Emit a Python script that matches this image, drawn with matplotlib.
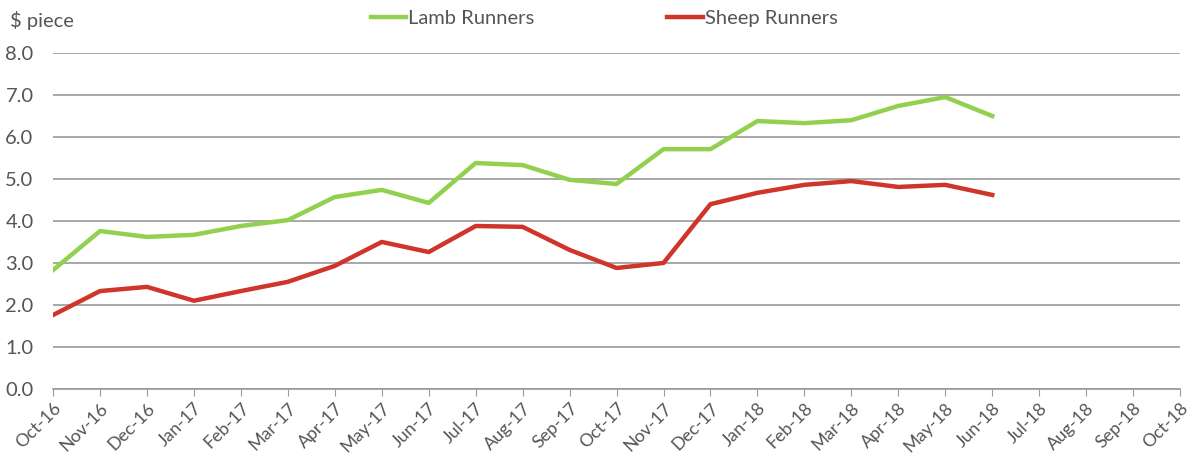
import matplotlib
matplotlib.use("Agg")
import matplotlib.pyplot as plt
import numpy as np

plt.rcParams['font.family'] = ['Lato', 'DejaVu Sans']

months = ["Oct-16", "Nov-16", "Dec-16", "Jan-17", "Feb-17", "Mar-17", "Apr-17",
          "May-17", "Jun-17", "Jul-17", "Aug-17", "Sep-17", "Oct-17", "Nov-17",
          "Dec-17", "Jan-18", "Feb-18", "Mar-18", "Apr-18", "May-18", "Jun-18",
          "Jul-18", "Aug-18", "Sep-18", "Oct-18"]

lamb = [2.83, 3.76, 3.62, 3.67, 3.88, 4.02, 4.57, 4.74, 4.43, 5.38, 5.33,
        4.98, 4.88, 5.71, 5.71, 6.38, 6.33, 6.40, 6.74, 6.95, 6.50]
sheep = [1.76, 2.33, 2.43, 2.10, 2.33, 2.55, 2.93, 3.50, 3.26, 3.88, 3.86,
         3.31, 2.88, 3.00, 4.40, 4.67, 4.86, 4.95, 4.81, 4.86, 4.62]

text_col = "#555555"
grid_col = "#9a9a9a"

fig = plt.figure(figsize=(11.92, 4.57), dpi=100)
ax = fig.add_axes([0.0445, 0.149, 0.9455, 0.735])

x = np.arange(len(months))
ax.plot(x[:len(lamb)], lamb, color="#92d050", lw=3.2, label="Lamb Runners",
        solid_joinstyle="round")
ax.plot(x[:len(sheep)], sheep, color="#d0352b", lw=3.2, label="Sheep Runners",
        solid_joinstyle="round")

ax.set_xlim(0, len(months) - 1)
ax.set_ylim(0, 8)
ax.set_yticks(np.arange(0, 8.1, 1.0))
ax.set_yticklabels([f"{v:.1f}" for v in np.arange(0, 8.1, 1.0)])
ax.set_xticks(x)
ax.set_xticklabels(months, rotation=45, ha="right", va="top",
                   rotation_mode="anchor")

ax.grid(axis="y", color=grid_col, lw=1.2)
ax.set_axisbelow(True)
for s in ["top", "right", "left"]:
    ax.spines[s].set_visible(False)
ax.spines["bottom"].set_color(grid_col)
ax.spines["bottom"].set_linewidth(1.2)
ax.tick_params(axis="y", length=0, labelsize=14.5, colors=text_col, pad=14)
ax.tick_params(axis="x", length=5, color=grid_col, labelsize=12.8,
               colors=text_col, pad=3)

fig.text(0.008, 0.955, "$ piece", fontsize=14.5, color=text_col, va="center")

leg = fig.legend(loc="center", bbox_to_anchor=(0.507, 0.96), ncol=2,
                 frameon=False, fontsize=14.5, handlelength=1.75,
                 handletextpad=0.1, columnspacing=6.6)
for t in leg.get_texts():
    t.set_color(text_col)

fig.savefig("out.png", dpi=100)
